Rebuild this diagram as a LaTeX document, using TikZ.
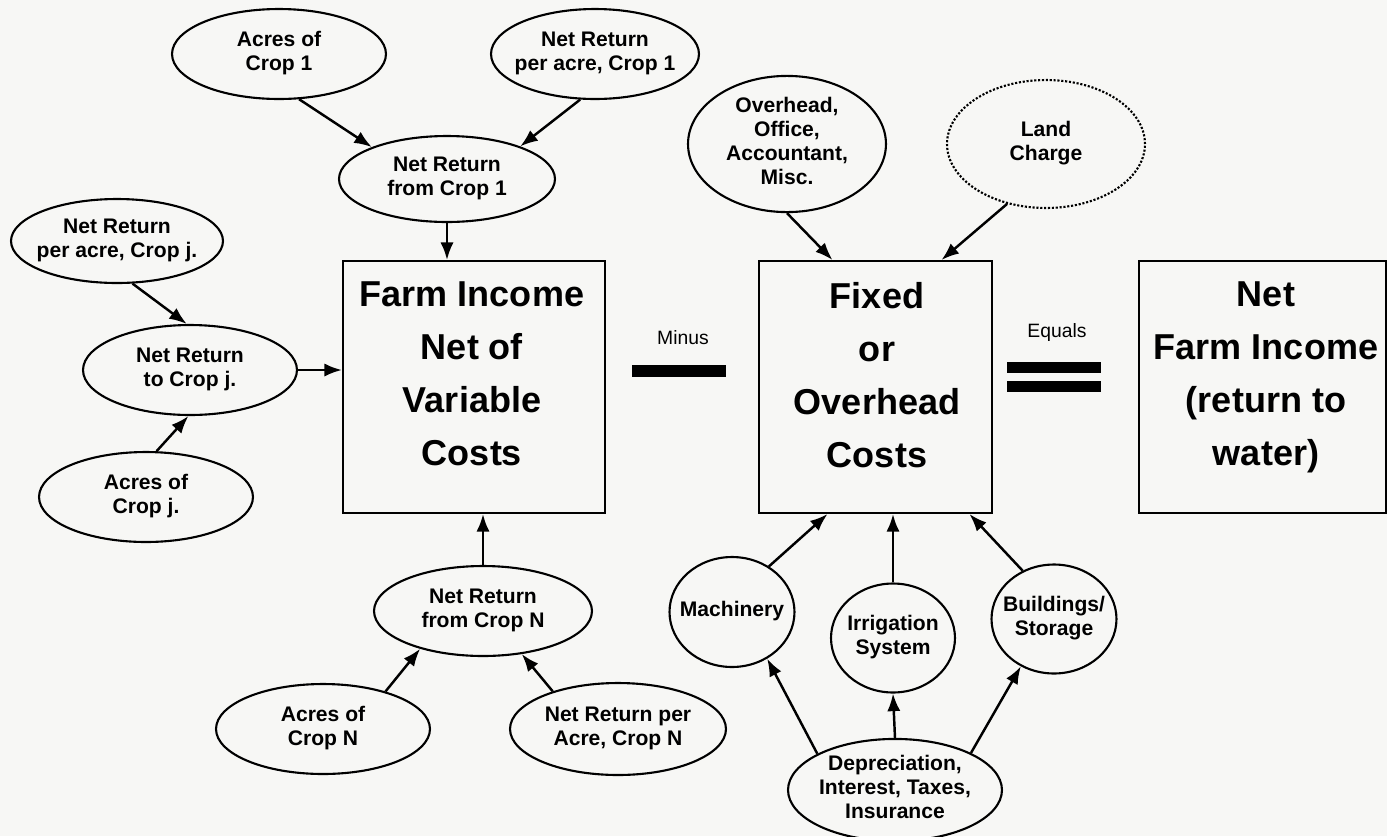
\documentclass[tikz,border=0pt]{standalone}
\usepackage{fontspec}
\setmainfont{Liberation Sans}
\usepackage{xcolor}
\usetikzlibrary{arrows.meta,calc,shapes.geometric}
\definecolor{paper}{RGB}{247,247,245}
\newcommand{\ovl}[1]{\makebox[0pt]{\begin{tabular}{@{}c@{}}#1\end{tabular}}}

\begin{document}
\begin{tikzpicture}[x=0.02cm,y=-0.02cm,
  every node/.style={font=\fontsize{12}{13.7}\selectfont\bfseries},
  oval/.style={ellipse,draw,line width=1.2pt,inner sep=0pt,minimum width=4.28cm,minimum height=1.8cm},
  bigbox/.style={draw,line width=1.2pt,inner sep=0pt,minimum height=5.04cm},
  bigtext/.style={align=center,font=\fontsize{20.5}{30.2}\selectfont\bfseries},
  bar/.style={fill=black,inner sep=0pt,minimum width=1.88cm,minimum height=0.23cm},
  opword/.style={font=\fontsize{11}{13}\selectfont},
  arr/.style={-{Latex[length=10pt,width=7.5pt]},line width=1.4pt}]
  \fill[paper] (0,0) rectangle (1387,836);
  \useasboundingbox (0,0) rectangle (1387,836);
  % variable side
  \node[oval] (acres1) at (279,54) {\ovl{Acres of\\Crop 1}};
  \node[oval,minimum width=4.16cm] (perac1) at (595,54) {\ovl{Net Return\\per acre, Crop 1}};
  \node[oval,minimum width=4.32cm,minimum height=1.72cm] (nr1) at (447,179) {\ovl{Net Return\\from Crop 1}};
  \node[oval,minimum width=4.24cm,minimum height=1.68cm] (peracj) at (117,241) {\ovl{Net Return\\per acre, Crop j.}};
  \node[oval] (nrj) at (190,370) {\ovl{Net Return\\to Crop j.}};
  \node[oval] (acresj) at (146,497) {\ovl{Acres of\\Crop j.}};
  \node[oval,minimum width=4.36cm] (nrn) at (483,611) {\ovl{Net Return\\from Crop N}};
  \node[oval] (acresn) at (323,729) {\ovl{Acres of\\Crop N}};
  \node[oval,minimum width=4.32cm,minimum height=1.84cm] (peracn) at (618,729) {\ovl{Net Return per\\Acre, Crop N}};
  % the three boxes
  \node[bigbox,minimum width=5.24cm] (farm) at (474,387) {};
  \node[bigtext] (farmtxt) at (472,374) {Farm Income\\Net of\\Variable\\Costs};
  \node[bigbox,minimum width=4.66cm] (fixed) at (875.5,387) {};
  \node[bigtext] (fixedtxt) at (877,375) {Fixed\\or\\Overhead\\Costs};
  \node[bigbox,minimum width=4.94cm] (net) at (1262.5,387) {};
  \node[bigtext] (nettxt) at (1266,377) {Net\\Farm Income\\(return to\\water)};
  \node[opword] (minus) at (683,338) {Minus};
  \node[bar] (minusbar) at (679,371) {};
  \node[opword] (equals) at (1057,332) {Equals};
  \node[bar,minimum height=0.22cm] (eqtop) at (1054,367.5) {};
  \node[bar,minimum height=0.22cm] (eqbot) at (1054,386) {};
  % fixed side
  \node[oval,minimum width=3.96cm,minimum height=2.52cm] (ovh) at (787,144) {\ovl{Overhead,\\Office,\\Accountant,\\Misc.}};
  \node[oval,densely dotted,minimum width=3.96cm,minimum height=2.56cm] (land) at (1046,144) {\ovl{Land\\Charge}};
  \node[oval,minimum width=2.5cm,minimum height=2.2cm] (mach) at (732,612) {\ovl{Machinery}};
  \node[oval,minimum width=2.48cm,minimum height=2.18cm] (irr) at (893,638) {\ovl{Irrigation\\System}};
  \node[oval,minimum width=2.5cm,minimum height=2.18cm] (bldg) at (1054,619) {\ovl{Buildings/\\Storage}};
  \node[oval,minimum height=1.76cm] (dep) at (895,790) {\ovl{Depreciation,\\Interest, Taxes,\\Insurance}};
  % arrows
  \draw[arr] (acres1.-66) -- (nr1.157);
  \draw[arr] (perac1.-108) -- (nr1.24);
  \draw[arr] (nr1.south) -- (nr1.south |- farm.north);
  \draw[arr] (peracj.-70) -- (nrj.94);
  \draw[arr] (acresj.77) -- (nrj.-92);
  \draw[arr] (nrj.east) -- (nrj.east -| farm.west);
  \draw[arr] (nrn.north) -- (nrn.north |- farm.south);
  \draw[arr] (acresn.31) -- (nrn.-149);
  \draw[arr] (peracn.150) -- (nrn.-48);
  \draw[arr] (ovh.south) -- ($(fixed.north)+(-43,0)$);
  \draw[arr] (land.-123) -- ($(fixed.north)+(66,0)$);
  \draw[arr] (mach.51) -- ($(fixed.south)+(-48,0)$);
  \draw[arr] (irr.north) -- (irr.north |- fixed.south);
  \draw[arr] (bldg.123) -- ($(fixed.south)+(94,0)$);
  \draw[arr] (dep.155) -- (mach.-53);
  \draw[arr] (dep.north) -- (irr.south);
  \draw[arr] (dep.26) -- (bldg.-125);
\end{tikzpicture}
\end{document}
